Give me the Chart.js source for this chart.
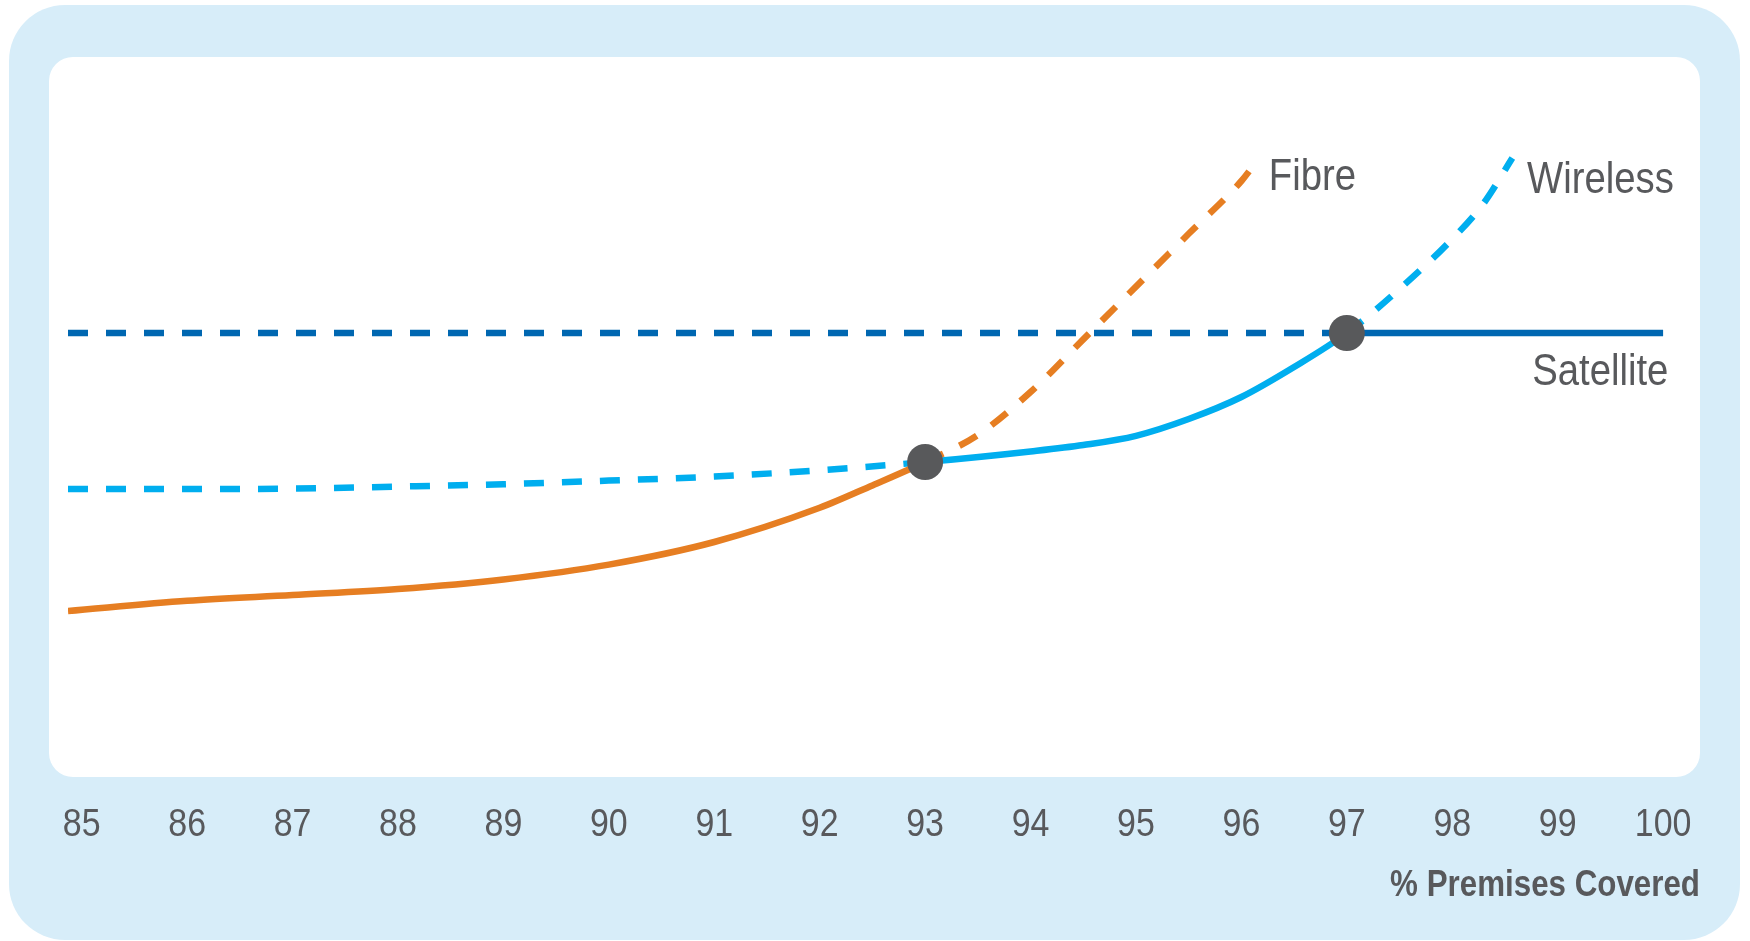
<!DOCTYPE html>
<html>
<head>
<meta charset="utf-8">
<script src="https://cdn.jsdelivr.net/npm/chart.js@4.4.1/dist/chart.umd.min.js"></script>
<style>
  html, body { margin: 0; padding: 0; background: #fff; }
  #wrap { position: relative; width: 1750px; height: 941px; overflow: hidden; }
  .outer { position: absolute; left: 9px; top: 5px; width: 1731px; height: 935px; background: #d7edf9; border-radius: 56px; }
  .inner { position: absolute; left: 49px; top: 57px; width: 1651px; height: 720px; background: #fff; border-radius: 24px; }
  canvas { position: absolute; left: 0; top: 0; }
</style>
</head>
<body>
<div id="wrap">
  <div class="outer"></div>
  <div class="inner"></div>
  <canvas id="Chart" width="1750" height="941"></canvas>
</div>
<script>
// x axis: % premises covered
var xTicks = [85, 86, 87, 88, 89, 90, 91, 92, 93, 94, 95, 96, 97, 98, 99, 100];

// fibre cost curve (solid up to the first handover, dashed after)
var fibreX = [84.87, 86, 87, 88, 89, 90, 91, 92, 92.5, 93, 93.5, 94, 94.5, 95, 95.5, 96, 96.16];
var fibreY = [30.5, 33.05, 34.5, 36, 38.4, 42.1, 47.75, 56.3, 61.9, 67.75, 74.5, 85.25, 98.4, 111.6, 124.8, 138, 143.5];

// wireless cost curve (dashed, solid between the handovers, dashed again)
var wirelessX = [84.87, 86, 87, 88, 89, 90, 91, 92, 93, 94, 94.5, 95, 95.5, 96, 96.5, 97, 97.5, 98, 98.3, 98.57];
var wirelessY = [61, 61, 61.1, 61.6, 62.2, 63.1, 64.1, 65.7, 67.75, 70.4, 72, 74.3, 78.5, 84, 91.5, 100, 111, 123.5, 132.5, 143.75];

// satellite cost (flat)
var satelliteX = [84.87, 97, 100];
var satelliteY = [100, 100, 100];

// handover points
var switchX = [93, 97];
var switchY = [67.75, 100];

var gray = '#58595c';
var fam = "'Liberation Sans', Arial, sans-serif";
var dash = [20, 18];

function pts(xs, ys) {
  return xs.map(function (x, i) { return {x: x, y: ys[i]}; });
}

// squeeze all chart text horizontally to mimic the condensed face of the original
var condense = {
  id: 'condense',
  beforeDraw: function (chart, args, opts) {
    var ctx = chart.ctx;
    var orig = ctx.fillText;
    ctx._origFill = orig;
    ctx.fillText = function (t, x, y, w) {
      this.save();
      this.translate(x, y);
      this.scale(opts.factor, 1);
      if (w === undefined) orig.call(this, t, 0, 0);
      else orig.call(this, t, 0, 0, w / opts.factor);
      this.restore();
    };
  },
  afterDraw: function (chart) {
    chart.ctx.fillText = chart.ctx._origFill;
  }
};

var seriesLabels = {
  id: 'seriesLabels',
  afterDatasetsDraw: function (chart, args, opts) {
    var ctx = chart.ctx, x = chart.scales.x, y = chart.scales.y;
    ctx.save();
    ctx.fillStyle = opts.color;
    ctx.font = opts.font;
    ctx.textBaseline = 'alphabetic';
    opts.items.forEach(function (it) {
      ctx.textAlign = it.align;
      ctx.fillText(it.text, x.getPixelForValue(it.x), y.getPixelForValue(it.y));
    });
    ctx.restore();
  }
};

var chart = new Chart('Chart', {
  type: 'line',
  data: {
    datasets: [{
      label: 'handover',
      data: pts(switchX, switchY),
      showLine: false,
      pointRadius: 18,
      pointBackgroundColor: '#58595b',
      pointBorderWidth: 0
    }, {
      label: 'Fibre',
      data: pts(fibreX, fibreY),
      borderColor: '#e67e22',
      borderWidth: 6.5,
      pointRadius: 0,
      cubicInterpolationMode: 'monotone',
      segment: {
        borderDash: function (c) { return c.p0.parsed.x >= switchX[0] ? dash : undefined; }
      }
    }, {
      label: 'Wireless',
      data: pts(wirelessX, wirelessY),
      borderColor: '#00aeef',
      borderWidth: 6.5,
      pointRadius: 0,
      cubicInterpolationMode: 'monotone',
      segment: {
        borderDash: function (c) {
          return (c.p1.parsed.x <= switchX[0] || c.p0.parsed.x >= switchX[1]) ? dash : undefined;
        }
      }
    }, {
      label: 'Satellite',
      data: pts(satelliteX, satelliteY),
      borderColor: '#0067b1',
      borderWidth: 6.5,
      pointRadius: 0,
      segment: {
        borderDash: function (c) { return c.p1.parsed.x <= switchX[1] ? dash : undefined; }
      }
    }]
  },
  options: {
    responsive: false,
    animation: false,
    layout: { padding: { left: 68, right: 50, top: 133, bottom: 0 } },
    scales: {
      x: {
        type: 'linear',
        min: 84.87,
        max: 100.35,
        grid: { display: true, drawOnChartArea: false, drawTicks: true, tickLength: 62, color: 'rgba(0,0,0,0)' },
        border: { display: false },
        afterBuildTicks: function (s) { s.ticks = xTicks.map(function (v) { return {value: v}; }); },
        afterFit: function (s) { s.height = 208; s.paddingLeft = 0; s.paddingRight = 0; },
        ticks: {
          padding: 7,
          color: gray,
          autoSkip: false,
          maxRotation: 0,
          font: { family: fam, size: 39 },
          callback: function (v) { return String(v); }
        },
        title: {
          display: true,
          text: '% Premises Covered',
          align: 'end',
          color: gray,
          font: { family: fam, size: 36, weight: 'bold' },
          padding: { top: 0, bottom: 33 }
        }
      },
      y: { min: 0, max: 150, display: false }
    },
    plugins: {
      legend: { display: false },
      tooltip: { enabled: false },
      condense: { factor: 0.87 },
      seriesLabels: {
        color: gray,
        font: "44px " + fam,
        items: [
          { text: 'Fibre', x: 96.26, y: 135.75, align: 'left' },
          { text: 'Wireless', x: 98.71, y: 135, align: 'left' },
          { text: 'Satellite', x: 100.05, y: 87, align: 'right' }
        ]
      }
    }
  },
  plugins: [condense, seriesLabels]
});
</script>
</body>
</html>
